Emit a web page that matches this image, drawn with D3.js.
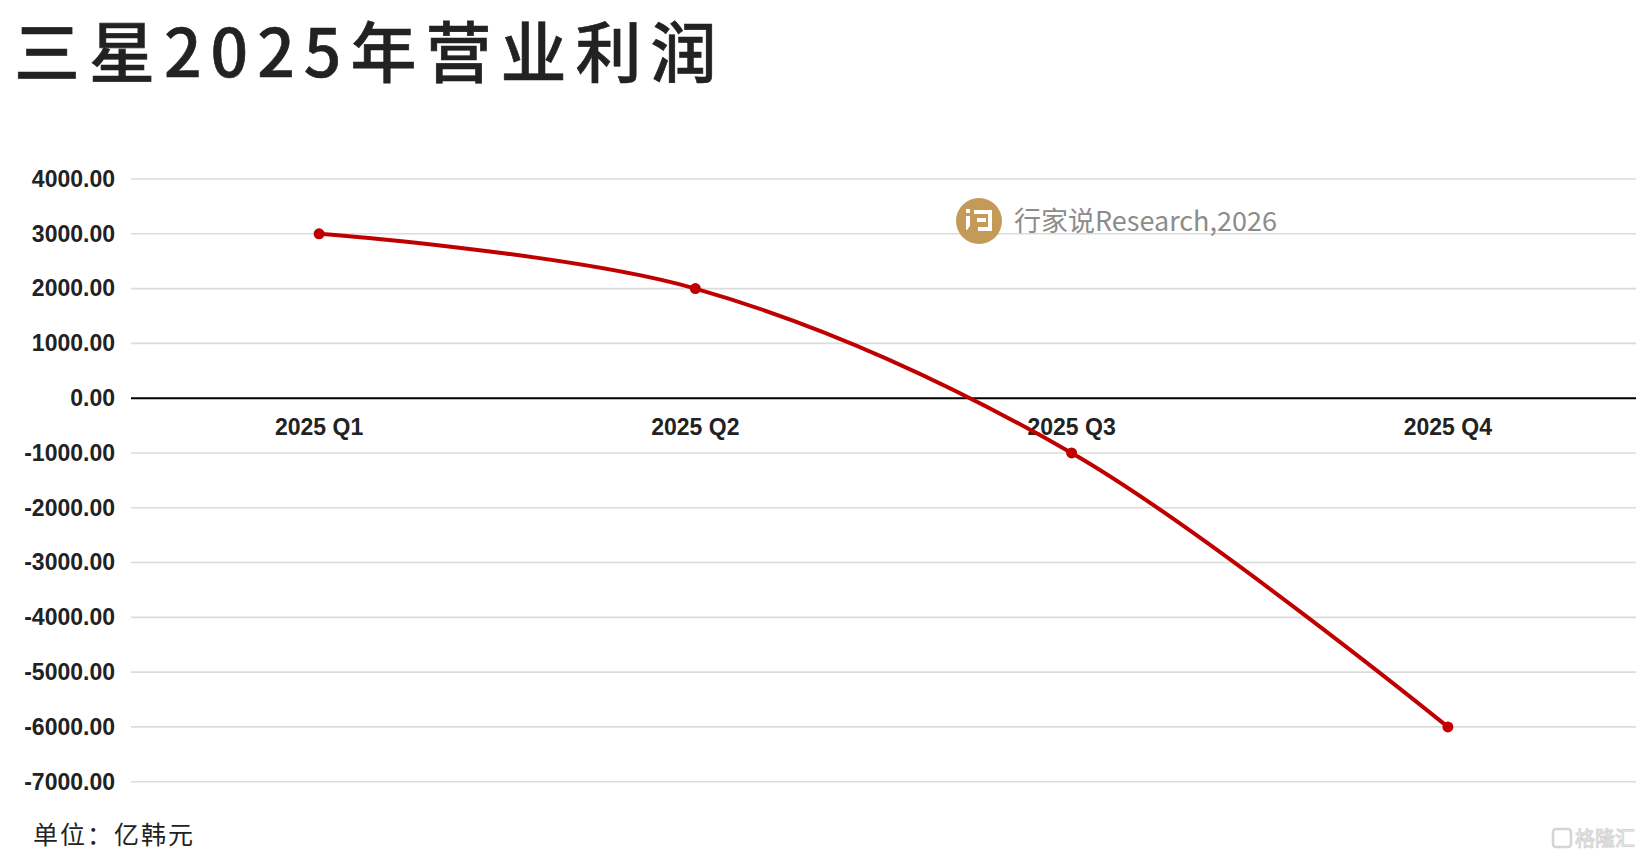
<!DOCTYPE html>
<html><head><meta charset="utf-8">
<script src="https://cdn.jsdelivr.net/npm/d3@7"></script>
<style>
html,body{margin:0;padding:0;background:#fff;}
svg{display:block;}
</style></head>
<body>
<svg id="chart" width="1644" height="858"></svg>
<script>
const title = "三星2025年营业利润";
const unitLabel = "单位：亿韩元";
const sourceLabel = "行家说Research,2026";
const categories = ["2025 Q1", "2025 Q2", "2025 Q3", "2025 Q4"];
const profits = [3000, 2000, -1000, -6000];
const yTicks = [4000, 3000, 2000, 1000, 0, -1000, -2000, -3000, -4000, -5000, -6000, -7000];

const svg = d3.select("#chart");
const W = 1644, H = 858;
const plot = {left: 131, right: 1636, top: 179, bottom: 781.7};

svg.append("rect").attr("width", W).attr("height", H).attr("fill", "#fff");

// title
svg.append("text")
  .attr("x", 14).attr("y", 77)
  .attr("font-family", "'Noto Sans CJK SC', 'Noto Sans', sans-serif")
  .attr("font-weight", 500)
  .attr("font-size", 66)
  .attr("letter-spacing", "9px")
  .attr("fill", "#222")
  .attr("stroke", "#222").attr("stroke-width", 0.6)
  .text(title);

const x = d3.scaleBand().domain(categories).range([plot.left, plot.right]);
const y = d3.scaleLinear().domain([-7000, 4000]).range([plot.bottom, plot.top]);

// gridlines
svg.append("g").selectAll("line").data(yTicks.filter(d => d !== 0)).join("line")
  .attr("x1", plot.left).attr("x2", plot.right)
  .attr("y1", d => y(d)).attr("y2", d => y(d))
  .attr("stroke", "#dcdcdc").attr("stroke-width", 1.6);

// y axis labels
const fmt = d => d3.format(".2f")(d).replace("\u2212", "-");
const yAxis = d3.axisLeft(y).tickValues(yTicks).tickFormat(fmt).tickSize(0).tickPadding(0);
const gy = svg.append("g").attr("transform", `translate(115,0)`).call(yAxis);
gy.select(".domain").remove();
gy.selectAll("text")
  .attr("font-family", "'Liberation Sans', Arial, sans-serif")
  .attr("font-weight", 700).attr("font-size", 23).attr("fill", "#222");

// watermark
const wm = svg.append("g");
wm.append("circle").attr("cx", 979).attr("cy", 221).attr("r", 23).attr("fill", "#c39a58");
wm.append("rect").attr("x", 966).attr("y", 209).attr("width", 4).attr("height", 4).attr("fill", "#fff");
wm.append("path").attr("d", "M966,216 h4 v10 l-3,4 h-1 z").attr("fill", "#fff");
wm.append("path").attr("d", "M974,210 h18 v21 h-14 v-4 h10 v-13 h-14 z").attr("fill", "#fff");
wm.append("rect").attr("x", 977).attr("y", 218).attr("width", 9).attr("height", 4).attr("fill", "#fff");
wm.append("text").attr("x", 1014).attr("y", 231)
  .attr("font-family", "'Noto Sans CJK SC', 'Noto Sans', sans-serif")
  .attr("font-size", 27).attr("fill", "#8c8c8c")
  .text(sourceLabel);

// zero axis
svg.append("line").attr("x1", plot.left).attr("x2", plot.right)
  .attr("y1", y(0)).attr("y2", y(0)).attr("stroke", "#000").attr("stroke-width", 2);

// x axis labels
const xAxis = d3.axisBottom(x).tickSize(0).tickPadding(0);
const gx = svg.append("g").attr("transform", `translate(0,${y(0) + 20})`).call(xAxis);
gx.select(".domain").remove();
gx.selectAll("text")
  .attr("font-family", "'Liberation Sans', Arial, sans-serif")
  .attr("font-weight", 700).attr("font-size", 23).attr("fill", "#222");

// line
const pts = categories.map((c, i) => [x(c) + x.bandwidth() / 2, y(profits[i])]);
svg.append("path")
  .attr("d", d3.line().curve(d3.curveCatmullRom.alpha(0.5))(pts))
  .attr("fill", "none").attr("stroke", "#c00000").attr("stroke-width", 4);
svg.append("g").selectAll("circle").data(pts).join("circle")
  .attr("cx", d => d[0]).attr("cy", d => d[1]).attr("r", 5.5).attr("fill", "#c00000");

// unit
svg.append("text").attr("x", 33).attr("y", 844)
  .attr("font-family", "'Noto Sans CJK SC', sans-serif")
  .attr("font-size", 25).attr("letter-spacing", "2px").attr("fill", "#222")
  .text(unitLabel);

// bottom-right logo
const lg = svg.append("g").attr("opacity", 0.9);
lg.append("rect").attr("x", 1553).attr("y", 829).attr("width", 18).attr("height", 18).attr("rx", 3)
  .attr("fill", "none").attr("stroke", "#d0d0d0").attr("stroke-width", 2.5);
lg.append("text").attr("x", 1575).attr("y", 846)
  .attr("font-family", "'Noto Sans CJK SC', sans-serif")
  .attr("font-size", 20).attr("fill", "#fff").attr("stroke", "#cfcfcf").attr("stroke-width", 1)
  .text("格隆汇");
</script>
</body></html>
